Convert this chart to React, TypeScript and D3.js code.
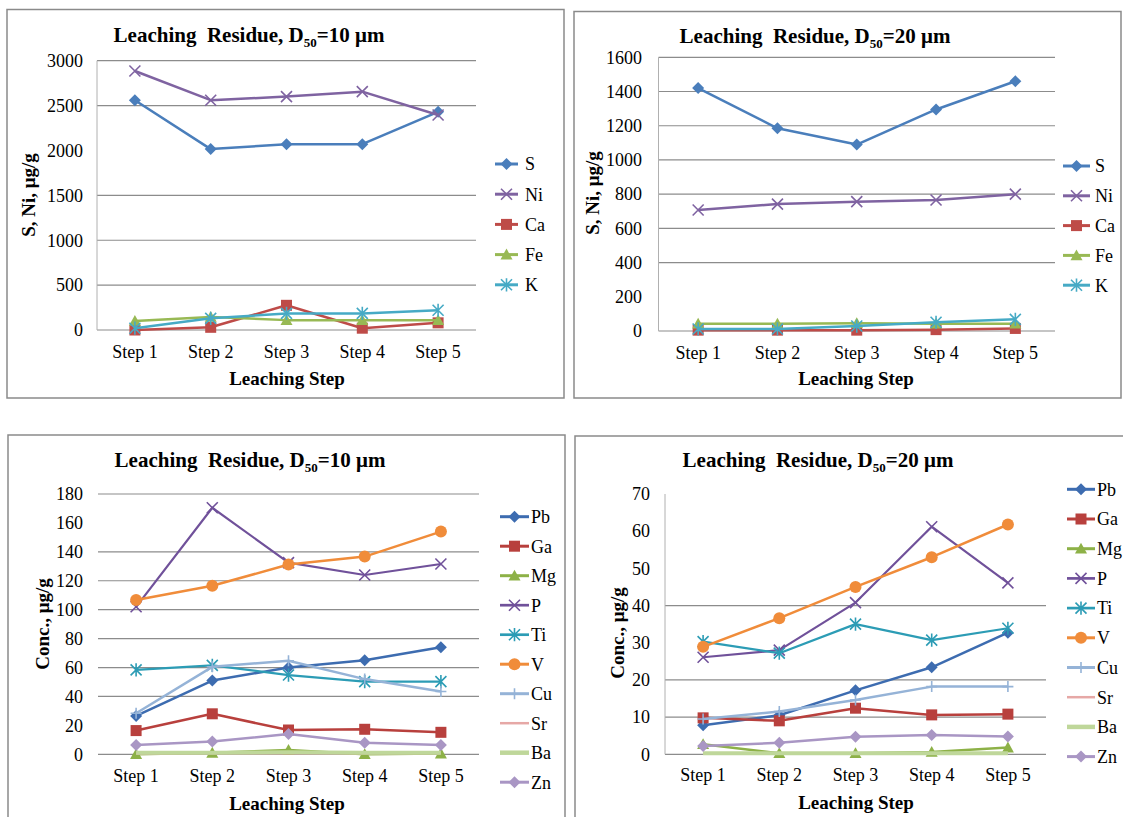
import React from "react";
import * as d3 from "d3";

const steps = ["Step 1", "Step 2", "Step 3", "Step 4", "Step 5"];

// S, Ni and the other major elements, ug/g
const s10 = [2560, 2015, 2070, 2070, 2430];
const ni10 = [2885, 2560, 2600, 2655, 2395];
const ca10 = [0, 30, 275, 20, 80];
const fe10 = [100, 145, 110, 110, 110];
const k10 = [20, 130, 185, 185, 220];

const s20 = [1420, 1185, 1090, 1295, 1460];
const ni20 = [707, 742, 756, 766, 800];
const ca20 = [5, 5, 5, 8, 15];
const fe20 = [42, 42, 45, 42, 42];
const k20 = [12, 12, 29, 51, 68];

// trace elements, ug/g
const pb10 = [26.5, 51, 60, 65, 74];
const ga10 = [16.4, 28, 16.8, 17.3, 15.2];
const mg10 = [0, 1, 3, 0, 0.5];
const p10 = [102, 170.5, 132.5, 124, 131.6];
const ti10 = [58.4, 61.5, 54.8, 50.3, 50.3];
const v10 = [106.7, 116.5, 131.2, 136.7, 154];
const cu10 = [28.4, 60.5, 64.7, 52, 43.4];
const sr10 = [0.3, 0.5, 0.5, 0.5, 0.5];
const ba10 = [1, 1, 1.5, 1, 1];
const zn10 = [6.5, 8.8, 14, 8, 6.5];

const pb20 = [7.8, 10.5, 17.2, 23.4, 32.7];
const ga20 = [9.8, 9.0, 12.4, 10.6, 10.8];
const mg20 = [2.7, 0.3, 0.3, 0.6, 1.8];
const p20 = [26.1, 28, 40.8, 61.2, 46.1];
const ti20 = [30.3, 27.2, 35, 30.7, 33.9];
const v20 = [28.9, 36.6, 45, 53, 61.8];
const cu20 = [9.5, 11.5, 14.6, 18.2, 18.2];
const sr20 = [0.2, 0.2, 0.2, 0.2, 0.2];
const ba20 = [0.3, 0.3, 0.3, 0.3, 0.3];
const zn20 = [2.2, 3.1, 4.7, 5.2, 4.8];

const majorNames = ["S", "Ni", "Ca", "Fe", "K"];
const traceNames = ["Pb", "Ga", "Mg", "P", "Ti", "V", "Cu", "Sr", "Ba", "Zn"];

const ticks1 = [0, 500, 1000, 1500, 2000, 2500, 3000];
const grid1 = [500, 1000, 1500, 2500, 3000];
const ticks2 = [0, 200, 400, 600, 800, 1000, 1200, 1400, 1600];
const grid2 = [400, 600, 800, 1000, 1200, 1400, 1600];
const ticks3 = [0, 20, 40, 60, 80, 100, 120, 140, 160, 180];
const grid3 = [40, 60, 80, 100, 120, 140, 180];
const ticks4 = [0, 10, 20, 30, 40, 50, 60, 70];
const grid4 = [10, 20, 40];

type Style = { color: string; marker: string; width: number };

const majorStyles: Style[] = [
  { color: "#4A7EBB", marker: "diamond", width: 2.5 },
  { color: "#7F63A1", marker: "x", width: 2.5 },
  { color: "#BE4B48", marker: "square", width: 2.5 },
  { color: "#98B954", marker: "triangle", width: 2.5 },
  { color: "#46AAC5", marker: "star", width: 2.5 },
];

const traceStyles: Style[] = [
  { color: "#3D6CB0", marker: "diamond", width: 2.5 },
  { color: "#B8403D", marker: "square", width: 2.5 },
  { color: "#8DB147", marker: "triangle", width: 2.5 },
  { color: "#70519A", marker: "x", width: 2.2 },
  { color: "#2C9CB5", marker: "star", width: 2.2 },
  { color: "#F08C3A", marker: "circle", width: 2.5 },
  { color: "#95B3D7", marker: "plus", width: 2.5 },
  { color: "#E6A8A6", marker: "none", width: 2 },
  { color: "#BFD79A", marker: "none", width: 4 },
  { color: "#A996C4", marker: "diamond", width: 2.5 },
];

const FONT = "Liberation Serif, Times New Roman, DejaVu Serif, serif";

function Marker({ type, x, y, color, s }: { type: string; x: number; y: number; color: string; s: number }) {
  if (type === "diamond")
    return <path d={`M${x},${y - s}L${x + s},${y}L${x},${y + s}L${x - s},${y}Z`} fill={color} />;
  if (type === "square")
    return <rect x={x - s} y={y - s} width={2 * s} height={2 * s} fill={color} />;
  if (type === "triangle")
    return <path d={`M${x},${y - s}L${x + s},${y + s * 0.8}L${x - s},${y + s * 0.8}Z`} fill={color} />;
  if (type === "circle") return <circle cx={x} cy={y} r={s} fill={color} />;
  const lines: string[] = [];
  if (type === "x" || type === "star") lines.push(`M${x - s},${y - s}L${x + s},${y + s}M${x - s},${y + s}L${x + s},${y - s}`);
  if (type === "star") lines.push(`M${x},${y - s * 1.2}L${x},${y + s * 1.2}`);
  if (type === "plus") lines.push(`M${x - s},${y}L${x + s},${y}M${x},${y - s}L${x},${y + s}`);
  if (!lines.length) return null;
  return <path d={lines.join("")} stroke={color} strokeWidth={1.6} fill="none" />;
}

const markerSize = (t: string) =>
  t === "square" ? 5.5 : t === "circle" ? 6 : t === "diamond" ? 6 : t === "triangle" ? 6 : 5.5;

type PanelProps = {
  frame: number[];
  left: number;
  right: number;
  top: number;
  bottom: number;
  yMax: number;
  ticks: number[];
  grid: number[];
  axisLine: boolean;
  tickRight: number;
  titleX: number;
  titleY: number;
  size: string;
  ylabX: number;
  ylabY: number;
  ylab: string;
  xlabX: number;
  xlabY: number;
  stepY: number;
  legend: { x0: number; x1: number; tx: number; y0: number; dy: number };
  names: string[];
  values: number[][];
  styles: Style[];
};

function Panel(p: PanelProps) {
  const x = d3.scalePoint<string>().domain(steps).range([p.left, p.right]).padding(0.5);
  const y = d3.scaleLinear().domain([0, p.yMax]).range([p.bottom, p.top]);
  const line = d3
    .line<number>()
    .x((_, i) => x(steps[i]) as number)
    .y((d) => y(d));
  const [fx0, fy0, fx1, fy1] = p.frame;
  return (
    <g style={{ fontFamily: FONT }} fill="#000">
      <rect x={fx0} y={fy0} width={fx1 - fx0} height={fy1 - fy0} fill="#fff" stroke="#8a8a8a" strokeWidth={1.5} />
      {p.grid.map((g) => (
        <line key={g} x1={p.left} x2={p.right} y1={y(g)} y2={y(g)} stroke="#8c8c8c" strokeWidth={1.2} />
      ))}
      <line x1={p.left} x2={p.right} y1={y(0)} y2={y(0)} stroke="#8c8c8c" strokeWidth={1.2} />
      {p.axisLine && <line x1={p.left} x2={p.left} y1={y(0)} y2={y(p.yMax)} stroke="#b0b0b0" strokeWidth={1} />}
      {p.ticks.map((t) => (
        <text key={t} x={p.tickRight} y={y(t)} dy="0.35em" textAnchor="end" fontSize={18}>
          {t}
        </text>
      ))}
      {steps.map((s) => (
        <text key={s} x={x(s)} y={p.stepY} dy="0.35em" textAnchor="middle" fontSize={18}>
          {s}
        </text>
      ))}
      <text x={p.titleX} y={p.titleY} dy="0.35em" textAnchor="middle" fontSize={21} fontWeight="bold">
        Leaching{"\u00a0"} Residue, D
        <tspan fontSize={13} dy={5}>50</tspan>
        <tspan dy={-5}>={p.size} μm</tspan>
      </text>
      <text
        transform={`translate(${p.ylabX},${p.ylabY}) rotate(-90)`}
        dy="0.35em"
        textAnchor="middle"
        fontSize={19}
        fontWeight="bold"
      >
        {p.ylab}
      </text>
      <text x={p.xlabX} y={p.xlabY} dy="0.35em" textAnchor="middle" fontSize={19} fontWeight="bold">
        Leaching Step
      </text>
      {p.values.map((vals, k) => {
        const st = p.styles[k];
        return (
          <g key={p.names[k]}>
            <path d={line(vals) || ""} fill="none" stroke={st.color} strokeWidth={st.width} strokeLinejoin="round" />
            {vals.map((v, i) => (
              <Marker key={i} type={st.marker} x={x(steps[i]) as number} y={y(v)} color={st.color} s={markerSize(st.marker)} />
            ))}
          </g>
        );
      })}
      {p.names.map((n, k) => {
        const st = p.styles[k];
        const ly = p.legend.y0 + k * p.legend.dy;
        return (
          <g key={n}>
            <line x1={p.legend.x0} x2={p.legend.x1} y1={ly} y2={ly} stroke={st.color} strokeWidth={st.width + 0.5} />
            <Marker type={st.marker} x={(p.legend.x0 + p.legend.x1) / 2} y={ly} color={st.color} s={markerSize(st.marker)} />
            <text x={p.legend.tx} y={ly} dy="0.35em" fontSize={18}>
              {n}
            </text>
          </g>
        );
      })}
    </g>
  );
}

export default function App() {
  return (
    <svg
      width={1123}
      height={817}
      style={{ position: "absolute", left: 0, top: 0, background: "#fff" }}
    >
      <Panel
        frame={[7, 9.5, 564, 398]}
        left={97}
        right={476}
        top={60.7}
        bottom={330}
        yMax={3000}
        ticks={ticks1}
        grid={grid1}
        axisLine={true}
        tickRight={83}
        titleX={249}
        titleY={35}
        size="10"
        ylabX={28}
        ylabY={195}
        ylab="S, Ni, μg/g"
        xlabX={287}
        xlabY={378}
        stepY={352}
        legend={{ x0: 495, x1: 518, tx: 525, y0: 164, dy: 30.2 }}
        names={majorNames}
        values={[s10, ni10, ca10, fe10, k10]}
        styles={majorStyles}
      />
      <Panel
        frame={[574, 11.5, 1121, 398]}
        left={658.5}
        right={1055}
        top={57.3}
        bottom={331}
        yMax={1600}
        ticks={ticks2}
        grid={grid2}
        axisLine={true}
        tickRight={642}
        titleX={815}
        titleY={36}
        size="20"
        ylabX={592}
        ylabY={193}
        ylab="S, Ni, μg/g"
        xlabX={856}
        xlabY={378}
        stepY={353}
        legend={{ x0: 1063, x1: 1090, tx: 1095, y0: 166, dy: 29.8 }}
        names={majorNames}
        values={[s20, ni20, ca20, fe20, k20]}
        styles={majorStyles}
      />
      <Panel
        frame={[8, 435, 565, 840]}
        left={98}
        right={479}
        top={494}
        bottom={754.3}
        yMax={180}
        ticks={ticks3}
        grid={grid3}
        axisLine={false}
        tickRight={83}
        titleX={250}
        titleY={460}
        size="10"
        ylabX={42}
        ylabY={624}
        ylab="Conc., μg/g"
        xlabX={287}
        xlabY={803}
        stepY={776}
        legend={{ x0: 500, x1: 529, tx: 531, y0: 516.7, dy: 29.5 }}
        names={traceNames}
        values={[pb10, ga10, mg10, p10, ti10, v10, cu10, sr10, ba10, zn10]}
        styles={traceStyles}
      />
      <Panel
        frame={[575, 436, 1140, 840]}
        left={665}
        right={1046}
        top={494}
        bottom={754.3}
        yMax={70}
        ticks={ticks4}
        grid={grid4}
        axisLine={true}
        tickRight={650}
        titleX={818}
        titleY={460}
        size="20"
        ylabX={617}
        ylabY={633}
        ylab="Conc., μg/g"
        xlabX={856}
        xlabY={802}
        stepY={775}
        legend={{ x0: 1067, x1: 1095, tx: 1097, y0: 489.3, dy: 29.7 }}
        names={traceNames}
        values={[pb20, ga20, mg20, p20, ti20, v20, cu20, sr20, ba20, zn20]}
        styles={traceStyles}
      />
    </svg>
  );
}
